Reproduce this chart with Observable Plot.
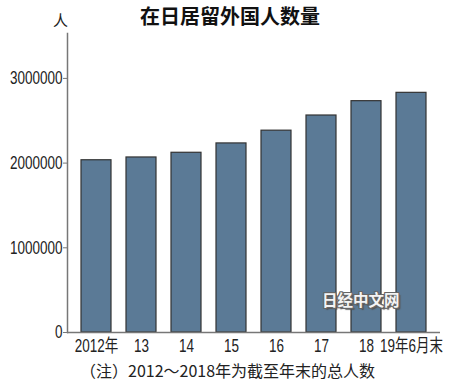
<!DOCTYPE html>
<html>
<head>
<meta charset="utf-8">
<script src="https://cdn.jsdelivr.net/npm/d3@7"></script>
<script src="https://cdn.jsdelivr.net/npm/@observablehq/plot@0.6"></script>
<style>
  body { margin: 0; background: #fff; }
  #wrap { position: relative; width: 450px; height: 387px; overflow: hidden; }
  .ov { position: absolute; white-space: nowrap; font-family: "Noto Sans CJK SC", sans-serif; color: #222; line-height: 1.2; }
  #title { left: 0; width: 460px; text-align: center; top: 4px; font-weight: bold; font-size: 20px; color: #111; }
  #unit { left: 53px; top: 11px; font-size: 15px; }
  #note { left: 80px; top: 361px; font-size: 16px; }
  #wm { left: 322px; top: 290px; font-weight: bold; font-size: 15.5px; color: #f4f4f4;
        text-shadow: 1px 0 0 #666, -1px 0 0 #666, 0 1px 0 #666, 0 -1px 0 #666, 1px 1px 0 #666, -1px -1px 0 #666, 1px -1px 0 #666, -1px 1px 0 #666, 2px 2px 1px #555; }
  svg text { font-family: "Liberation Sans", "Noto Sans CJK SC", sans-serif; }
</style>
</head>
<body>
<div id="wrap">
  <div id="chart"></div>
  <div class="ov" id="title">在日居留外国人数量</div>
  <div class="ov" id="unit">人</div>
  <div class="ov" id="wm">日经中文网</div>
  <div class="ov" id="note">（注）2012～2018年为截至年末的总人数</div>
</div>
<script>
const categories = ["2012年", "13", "14", "15", "16", "17", "18", "19年6月末"];
const values = [2033656, 2066445, 2121831, 2232189, 2382822, 2561848, 2731093, 2829416];
const yTicks = [0, 1000000, 2000000, 3000000];

const data = categories.map((c, i) => ({category: c, value: values[i]}));

const plot = Plot.plot({
  width: 450,
  height: 387,
  marginTop: 33,
  marginBottom: 55,
  marginLeft: 67,
  marginRight: 10,
  style: {fontSize: "18px", color: "#222", background: "#fff"},
  x: {domain: categories, paddingInner: 0.333, paddingOuter: 0.31, label: null},
  y: {domain: [0, 3530000], label: null},
  marks: [
    Plot.barY(data, {x: "category", y: "value", fill: "#5b7a96", stroke: "#333", strokeWidth: 1.2}),
    Plot.frame({anchor: "left", stroke: "#777", strokeWidth: 1.5}),
    Plot.ruleY([0], {stroke: "#777", strokeWidth: 1.5}),
    Plot.axisY({ticks: yTicks, tickFormat: d => String(d), tickSize: 4, tickPadding: 1, stroke: "#777", fontSize: 18, label: null}),
    Plot.axisX({tickSize: 0, tickPadding: 7, fontSize: 18, label: null})
  ]
});
// condensed look for tick labels (horizontal squeeze around each label's anchor)
plot.querySelectorAll('g[aria-label="y-axis tick label"] text, g[aria-label="x-axis tick label"] text').forEach(t => {
  const tr = t.getAttribute("transform");
  if (tr) t.setAttribute("transform", tr + " scale(0.75,1)");
});
document.getElementById("chart").appendChild(plot);
</script>
</body>
</html>
